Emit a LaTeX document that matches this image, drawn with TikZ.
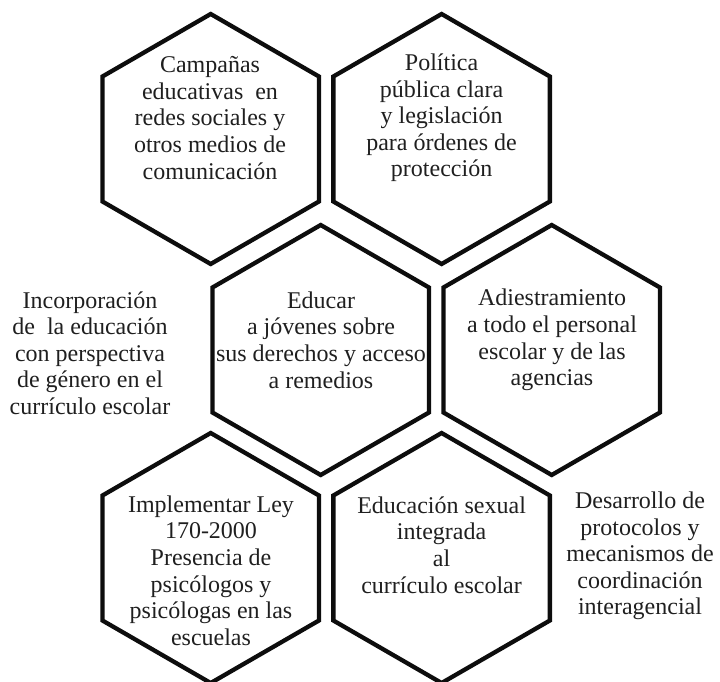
\documentclass[tikz,border=0pt]{standalone}
\usepackage{fontspec}
\setmainfont{Liberation Serif}
\usetikzlibrary{shapes.geometric}
\begin{document}
\begin{tikzpicture}[x=1pt,y=-1pt,
  hexa/.style={draw=black!95, line width=4.3pt, regular polygon, regular polygon sides=6,
    shape border rotate=30, minimum size=250pt, inner sep=0pt, outer sep=0pt},
  lbl/.style={align=center, font=\fontsize{24}{26.6}\selectfont, inner sep=0pt, text=black!88}]
\useasboundingbox (0,0) rectangle (720,682);
% hexagons
\node[hexa] (h1) at (210.7,139) {};
\node[hexa] (h2) at (441.6,139) {};
\node[hexa] (h3) at (320.7,350) {};
\node[hexa] (h4) at (551.7,350) {};
\node[hexa] (h5) at (210.7,558) {};
\node[hexa] (h6) at (441.6,558) {};
% texts
\node[lbl] (t1) at (210,118) {Campañas\\educativas~ en\\redes sociales y\\otros medios de\\comunicación};
\node[lbl] (t2) at (441.6,118) {Política\\pública clara\\y legislación\\para órdenes de\\protección};
\node[lbl] (t3) at (321,340) {Educar\\a jóvenes sobre\\sus derechos y acceso\\a remedios};
\node[lbl] (t4) at (552,340) {Adiestramiento\\a todo el personal\\escolar y de las\\agencias};
\node[lbl] (t5) at (211,570.5) {Implementar Ley\\170-2000\\Presencia de\\psicólogos y\\psicólogas en las\\escuelas};
\node[lbl] (t6) at (441.6,545) {Educación sexual\\integrada\\al\\currículo escolar};
\node[lbl] (t7) at (90,353) {Incorporación\\de~ la educación\\con perspectiva\\de género en el\\currículo escolar};
\node[lbl] (t8) at (640,556) {Desarrollo de\\protocolos y\\mecanismos de\\coordinación\\interagencial};
\end{tikzpicture}
\end{document}
